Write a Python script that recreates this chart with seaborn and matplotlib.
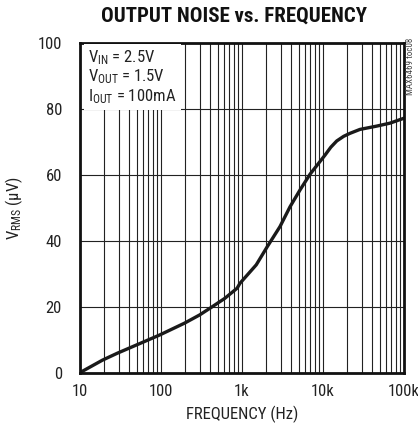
import numpy as np
import pandas as pd
import matplotlib
matplotlib.use("Agg")
import matplotlib.pyplot as plt
import seaborn as sns
from matplotlib.ticker import LogLocator, FixedLocator, NullFormatter

# data
freq_hz = [10, 19, 29, 50, 96, 195, 300, 418, 611, 870, 944, 1500, 2050, 2945,
           3915, 5200, 6920, 10600, 12500, 14800, 18000, 21500, 28600, 46000,
           67200, 100000]
noise_uv = [0.0, 3.8, 5.9, 8.4, 11.4, 15.0, 17.5, 19.8, 22.5, 25.6, 27.1, 32.7,
            38.2, 44.3, 50.3, 55.4, 60.2, 66.0, 68.4, 70.3, 71.7, 72.6, 73.8, 74.8,
            75.7, 77.2]

x_ticks = [10, 100, 1000, 10000, 100000]
x_labels = ["10", "100", "1k", "10k", "100k"]
y_ticks = [0, 20, 40, 60, 80, 100]

sns.set_style("white")
narrow = ["Roboto Condensed", "Sofia Sans Condensed", "DejaVu Sans"]
plt.rcParams["font.family"] = narrow
plt.rcParams["mathtext.fontset"] = "custom"
plt.rcParams["mathtext.rm"] = "Roboto Condensed"
plt.rcParams["mathtext.it"] = "Roboto Condensed"

df = pd.DataFrame({"freq": freq_hz, "noise": noise_uv})

fig = plt.figure(figsize=(4.18, 4.33), dpi=100)
ax = fig.add_axes([0.1914, 0.1395, 0.775, 0.761])

sns.lineplot(data=df, x="freq", y="noise", ax=ax, color="#1a1a1a", linewidth=2.4)
ax.set_xscale("log")
ax.set_xlim(10, 100000)
ax.set_ylim(0, 100)

ax.xaxis.set_major_locator(FixedLocator(x_ticks))
ax.set_xticklabels(x_labels)
ax.xaxis.set_minor_locator(LogLocator(base=10, subs=np.arange(2, 10)))
ax.xaxis.set_minor_formatter(NullFormatter())
ax.set_yticks(y_ticks)

ax.grid(True, which="both", axis="x", color="#222222", linewidth=0.8)
ax.grid(True, which="major", axis="y", color="#222222", linewidth=0.8)
ax.tick_params(axis="both", which="both", length=0, labelsize=12, colors="#222222")
ax.tick_params(axis="x", pad=8)
ax.tick_params(axis="y", pad=13)

for sp in ax.spines.values():
    sp.set_linewidth(2.0)
    sp.set_color("#111111")

ax.set_xlabel("FREQUENCY (Hz)", fontsize=12, color="#222222", labelpad=5)
ax.set_ylabel(r"V$_{\mathrm{RMS}}$ ($\mathrm{\mu}$V)", fontsize=12, color="#222222", labelpad=9)

fig.text(0.561, 0.963, "OUTPUT NOISE vs. FREQUENCY", ha="center", va="center",
         fontsize=15, fontweight=900, color="#111111")

ax.text(0.025, 0.985,
        "V$_{\\mathrm{IN}}$ = 2.5V\nV$_{\\mathrm{OUT}}$ = 1.5V\nI$_{\\mathrm{OUT}}$ = 100mA",
        transform=ax.transAxes, ha="left", va="top", fontsize=12, color="#222222",
        linespacing=1.05,
        bbox=dict(facecolor="white", edgecolor="none", pad=3))

fig.text(0.983, 0.912, "MAX6469 toc08", rotation=90, ha="center", va="top",
         fontsize=6.5, color="#444444")

fig.savefig("out.png", dpi=100)
